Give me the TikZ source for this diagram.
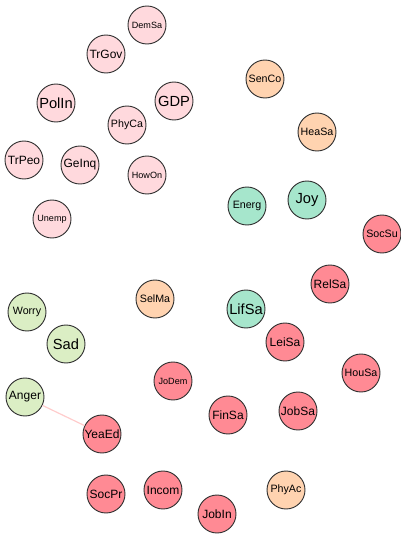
\documentclass[tikz,border=0pt]{standalone}
\usepackage{fontspec}
\setmainfont{Liberation Sans}
\definecolor{gpink}{HTML}{FFD9DD}
\definecolor{gpeach}{HTML}{FFD3B0}
\definecolor{gteal}{HTML}{A6E6CC}
\definecolor{glime}{HTML}{DBEEC4}
\definecolor{gred}{HTML}{FF8A94}
\begin{document}
\begin{tikzpicture}[x=0.75pt,y=-0.75pt,
	nd/.style={circle,draw=black!80,line width=0.7pt,minimum size=28.5pt,inner sep=0pt,font=\fontsize{8}{8}\selectfont},
	big/.style={font=\fontsize{11}{11}\selectfont},
	mid/.style={font=\fontsize{9}{9}\selectfont},
	sml/.style={font=\fontsize{6.8}{6.8}\selectfont}]
	\useasboundingbox (0,0) rectangle (400,534);
	% first group
	\node[nd,fill=gpink,sml] (DemSa) at (147,25) {DemSa};
	\node[nd,fill=gpink,mid] (TrGov) at (106,54) {TrGov};
	\node[nd,fill=gpink,big] (PolIn) at (56,103) {PolIn};
	\node[nd,fill=gpink,big] (GDP) at (174,101) {GDP};
	\node[nd,fill=gpink] (PhyCa) at (127,125) {PhyCa};
	\node[nd,fill=gpink,mid] (TrPeo) at (24,160) {TrPeo};
	\node[nd,fill=gpink,mid] (GeInq) at (80,165) {GeInq};
	\node[nd,fill=gpink,sml] (HowOn) at (147,175) {HowOn};
	\node[nd,fill=gpink,sml] (Unemp) at (52,219) {Unemp};
	% second group
	\node[nd,fill=gpeach] (SenCo) at (265,79) {SenCo};
	\node[nd,fill=gpeach] (HeaSa) at (317,132) {HeaSa};
	\node[nd,fill=gpeach] (SelMa) at (155,299) {SelMa};
	\node[nd,fill=gpeach] (PhyAc) at (286,490) {PhyAc};
	% third group
	\node[nd,fill=gteal] (Energ) at (247,206) {Energ};
	\node[nd,fill=gteal,big] (Joy) at (307,200) {Joy};
	\node[nd,fill=gteal,big] (LifSa) at (246,309) {LifSa};
	% fourth group
	\node[nd,fill=glime] (Worry) at (27,312) {Worry};
	\node[nd,fill=glime,big] (Sad) at (66,344) {Sad};
	\node[nd,fill=glime,mid] (Anger) at (25,397) {Anger};
	% fifth group
	\node[nd,fill=gred] (SocSu) at (382,234) {SocSu};
	\node[nd,fill=gred,mid] (RelSa) at (330,284) {RelSa};
	\node[nd,fill=gred,mid] (LeiSa) at (285,342) {LeiSa};
	\node[nd,fill=gred] (HouSa) at (361,373) {HouSa};
	\node[nd,fill=gred,mid] (JobSa) at (298,411) {JobSa};
	\node[nd,fill=gred,mid] (FinSa) at (228,415) {FinSa};
	\node[nd,fill=gred,sml] (JoDem) at (173,381) {JoDem};
	\node[nd,fill=gred,mid] (YeaEd) at (102,434) {YeaEd};
	\node[nd,fill=gred,mid] (SocPr) at (106,494) {SocPr};
	\node[nd,fill=gred,mid] (Incom) at (163,490) {Incom};
	\node[nd,fill=gred,mid] (JobIn) at (217,514) {JobIn};
	\draw[red!20,line width=0.9pt] (Anger) -- (YeaEd);
\end{tikzpicture}
\end{document}
